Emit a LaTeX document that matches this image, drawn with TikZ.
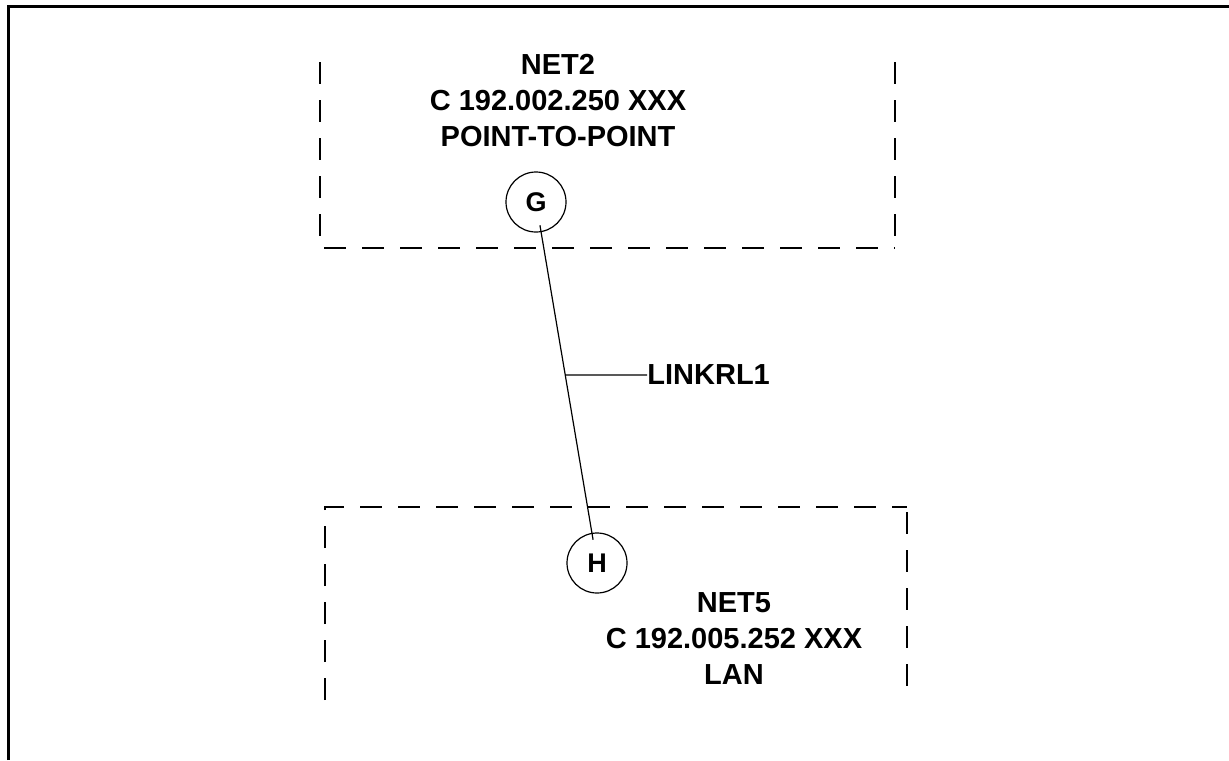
\documentclass[tikz,border=0pt]{standalone}
\usepackage{fontspec}
\setmainfont{Liberation Sans}
\usetikzlibrary{calc}

\begin{document}
\begin{tikzpicture}[x=0.5pt,y=-0.5pt,
        netbox/.style={black,line width=0.75pt,dash pattern=on 11pt off 8pt},
        hostnode/.style={draw,circle,minimum size=30pt,inner sep=0pt,line width=0.6pt,font=\bfseries\fontsize{13.5}{15}\selectfont},
        netlabel/.style={align=center,inner sep=0pt,font=\bfseries\fontsize{14.5}{18}\selectfont}]
        \useasboundingbox (0,0) rectangle (1229,760);
        \draw [black,line width=1.5pt] (8,760) -- (8,6) -- (1229,6);
        \draw [netbox] (320,62) -- (320,248) -- (895,248);
        \draw [netbox] (895,62) -- (895,248);
        \draw [netbox] (325,700) -- (325,507) -- (907,507);
        \draw [netbox] (907,512) -- (907,700);
        \node [netlabel] (net2) at (558,101) {NET2\\C 192.002.250 XXX\\POINT-TO-POINT};
        \node [netlabel] (net5) at (734,639) {NET5\\C 192.005.252 XXX\\LAN};
        \node [hostnode] (G) at (536,202) {G};
        \node [hostnode] (H) at (597,563) {H};
        \draw [line width=0.6pt,shorten <=-3.5pt,shorten >=-3.5pt] (G) -- (H);
        \coordinate (lk) at ($(G)!0.479!(H)$);
        \node [netlabel,anchor=west] (linklbl) at (647,375) {LINKRL1};
        \draw [line width=0.6pt] (lk) -- (linklbl.west);
\end{tikzpicture}
\end{document}
